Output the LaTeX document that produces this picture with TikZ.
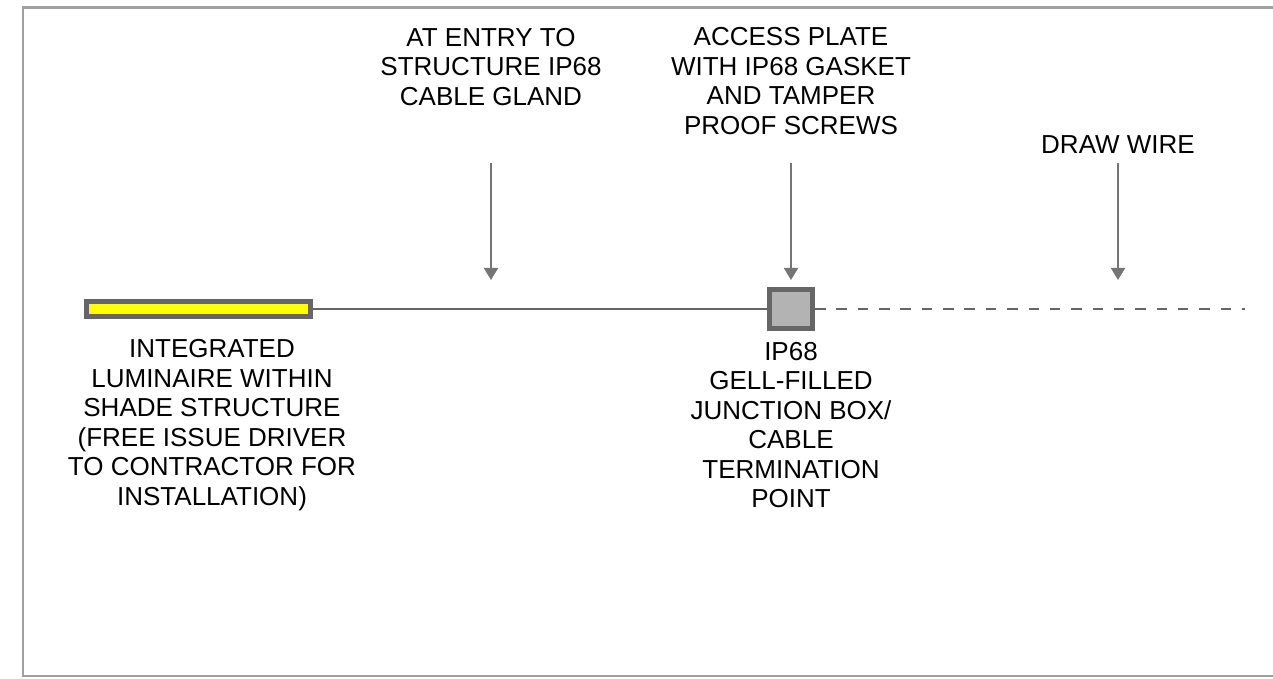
\documentclass[tikz,border=0pt]{standalone}
\usepackage{fontspec}
\setmainfont{Liberation Sans}
\usetikzlibrary{arrows.meta,positioning}
\definecolor{casing}{HTML}{666666}
\definecolor{framegray}{HTML}{A0A0A0}
\definecolor{boxfill}{HTML}{B3B3B3}
\definecolor{lampyellow}{HTML}{FFFF00}

\begin{document}
\begin{tikzpicture}[>={Triangle[width=2.8mm,length=2.4mm]},
  note/.style={align=center,inner sep=0pt,font=\fontsize{14.8}{16.8}\selectfont},
  pointer/.style={->,draw=casing!90!white,fill=casing,line width=1.1pt},
  cable/.style={draw=casing,line width=1.4pt}]
  \useasboundingbox (0,0) rectangle (25.46,-13.58);
  \draw[framegray,line width=1.7pt] (25.46,-0.16) -- (0.46,-0.16) -- (0.46,-13.52) -- (25.46,-13.52);

  % luminaire and junction box on the cable run
  \node[draw=casing,fill=lampyellow,line width=1mm,
    minimum width=44.8mm,minimum height=3mm,inner sep=0pt] (lamp) at (3.97,-6.18) {};
  \node[draw=casing,fill=boxfill,line width=1mm,
    minimum width=8.6mm,minimum height=7.8mm,inner sep=0pt] (jbox) at (15.82,-6.18) {};
  \coordinate (wire end) at (24.9,-6.18);
  \draw[cable] (lamp.east) -- (jbox.west);
  \draw[cable,dash pattern=on 2.1mm off 2.17mm] (jbox.east) -- (wire end);

  % callouts from above
  \node[note] (gland) at (9.82,-1.34) {AT ENTRY TO\\STRUCTURE IP68\\CABLE GLAND};
  \node[note] (plate) at (15.82,-1.62) {ACCESS PLATE\\WITH IP68 GASKET\\AND TAMPER\\PROOF SCREWS};
  \node[note] (draw wire) at (22.36,-2.9) {DRAW WIRE};
  \coordinate (gland tail) at (9.82,-3.26);
  \coordinate (gland tip) at (9.82,-5.6);
  \coordinate (plate tail) at (15.82,-3.26);
  \coordinate (plate tip) at (15.82,-5.6);
  \coordinate (wire tail) at (22.36,-3.26);
  \coordinate (wire tip) at (22.36,-5.6);
  \draw[pointer] (gland tail) -- (gland tip);
  \draw[pointer] (plate tail) -- (plate tip);
  \draw[pointer] (wire tail) -- (wire tip);

  % descriptions below
  \node[note] (lamp text) at (4.24,-8.5) {INTEGRATED\\LUMINAIRE WITHIN\\SHADE STRUCTURE\\(FREE ISSUE DRIVER\\TO CONTRACTOR FOR\\INSTALLATION)};
  \node[note] (jbox text) at (15.82,-8.5) {IP68\\GELL-FILLED\\JUNCTION BOX/\\CABLE\\TERMINATION\\POINT};
\end{tikzpicture}
\end{document}
